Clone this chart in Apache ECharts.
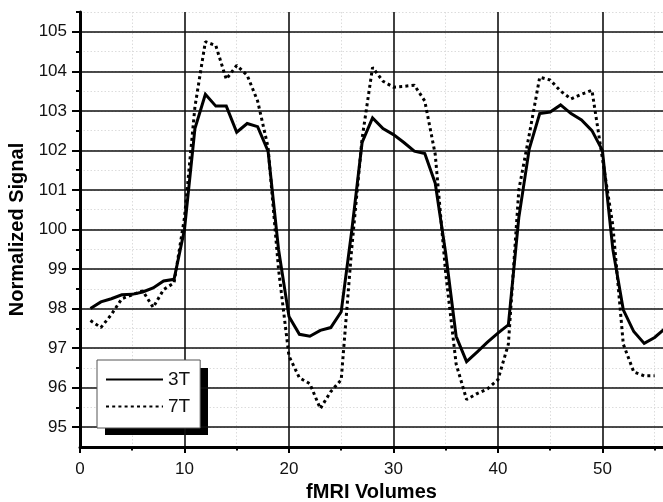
<!DOCTYPE html>
<html>
<head>
<meta charset="utf-8">
<script src="https://cdn.jsdelivr.net/npm/echarts@6/dist/echarts.min.js"></script>
<style>html,body{margin:0;padding:0;background:#fff;overflow:hidden}#c{width:663px;height:502px}</style>
</head>
<body>
<div id="c"></div>
<script>
const volumes = [1,2,3,4,5,6,7,8,9,10,11,12,13,14,15,16,17,18,19,20,21,22,23,24,25,26,27,28,29,30,31,32,33,34,35,36,37,38,39,40,41,42,43,44,45,46,47,48,49,50,51,52,53,54,55,56];
const signal3T = [98.0,98.17,98.25,98.35,98.36,98.42,98.52,98.7,98.74,100.0,
  102.55,103.42,103.12,103.12,102.46,102.68,102.6,101.98,99.5,97.8,
  97.35,97.3,97.45,97.52,97.92,99.95,102.2,102.82,102.55,102.4,
  102.2,101.98,101.92,101.17,99.4,97.3,96.66,96.9,97.15,97.38,
  97.59,100.3,102.04,102.93,102.97,103.15,102.93,102.77,102.5,102.0,
  99.5,97.97,97.42,97.12,97.27,97.5];
const signal7T = [97.7,97.52,97.85,98.25,98.35,98.45,98.03,98.48,98.65,100.3,
  103.1,104.75,104.65,103.8,104.15,103.9,103.25,102.08,99.0,96.8,
  96.25,96.1,95.47,95.9,96.2,99.5,102.3,104.1,103.75,103.6,
  103.62,103.65,103.25,101.9,98.9,96.6,95.7,95.85,95.97,96.2,
  97.1,101.0,102.4,103.85,103.78,103.5,103.3,103.42,103.52,101.8,
  100.1,97.1,96.4,96.3,96.3];
const yTicks = [95,96,97,98,99,100,101,102,103,104,105];
const yMinorTicks = [95,95.5,96,96.5,97,97.5,98,98.5,99,99.5,100,100.5,101,101.5,102,102.5,103,103.5,104,104.5,105,105.5];
const xTicks = [0,10,20,30,40,50];
const xMinorTicks = [5,15,25,35,45,55];
const seriesNames = ['3T','7T'];

const FONT = 'Liberation Sans, Arial, sans-serif';
const chart = echarts.init(document.getElementById('c'), null, {renderer:'canvas'});

const pair = (ys) => ys.map((v,i)=>[volumes[i], v]);

chart.setOption({
  animation:false,
  backgroundColor:'#fff',
  grid:{left:80, right:0, top:12, bottom:55, containLabel:false, outerBoundsMode:'none'},
  graphic:[{
    type:'rect', left:105, top:368, z:3, silent:true,
    shape:{width:103, height:67},
    style:{fill:'#000'}
  }],
  legend:{
    orient:'vertical', left:97, top:360, z:5,
    data:seriesNames,
    itemWidth:57, itemHeight:14, itemGap:8,
    padding:[10,10,12,8],
    backgroundColor:'#fff', borderColor:'#555', borderWidth:1,
    itemStyle:{opacity:0},
    textStyle:{fontFamily:FONT, fontSize:19, color:'#111'},
    inactiveColor:'#111'
  },
  xAxis:[{
    type:'value', min:0, max:55.8, position:'bottom',
    name:'fMRI Volumes', nameLocation:'middle', nameGap:35,
    nameTextStyle:{fontFamily:FONT, fontSize:20, fontWeight:'bold', color:'#000'},
    axisLine:{show:true, onZero:false, lineStyle:{color:'#000', width:3}},
    axisTick:{show:true, inside:false, length:6, customValues:xTicks, lineStyle:{color:'#000', width:2}},
    axisLabel:{show:true, customValues:xTicks, margin:14, fontFamily:FONT, fontSize:17, color:'#111'},
    splitLine:{show:true, lineStyle:{color:'#111', width:1.6, type:'solid'}},
    z:3
  },{
    type:'value', min:0, max:55.8, position:'bottom',
    axisLine:{show:false, onZero:false},
    axisTick:{show:true, inside:false, length:3.5, customValues:xMinorTicks, lineStyle:{color:'#000', width:2}},
    axisLabel:{show:false},
    splitLine:{show:true, lineStyle:{color:'#dcdcdc', width:1, type:[1.5,2]}},
    z:1
  }],
  yAxis:[{
    type:'value', min:94.5, max:105.5, position:'left',
    name:'Normalized Signal', nameLocation:'middle', nameGap:50, nameRotate:90,
    nameTextStyle:{fontFamily:FONT, fontSize:20, fontWeight:'bold', color:'#000'},
    axisLine:{show:true, onZero:false, lineStyle:{color:'#000', width:3}},
    axisTick:{show:true, inside:false, length:8, customValues:yTicks, lineStyle:{color:'#000', width:2}},
    axisLabel:{show:true, customValues:yTicks, margin:13, fontFamily:FONT, fontSize:17, color:'#111'},
    splitLine:{show:true, lineStyle:{color:'#111', width:1.6, type:'solid'}},
    z:3
  },{
    type:'value', min:94.5, max:105.5, position:'left',
    axisLine:{show:false, onZero:false},
    axisTick:{show:true, inside:false, length:4, customValues:yMinorTicks, lineStyle:{color:'#000', width:2}},
    axisLabel:{show:false},
    splitLine:{show:true, lineStyle:{color:'#dcdcdc', width:1, type:[1.5,2]}},
    z:1
  }],
  series:[{
    name:seriesNames[0], type:'line', xAxisIndex:0, yAxisIndex:0,
    data:pair(signal3T), showSymbol:false, symbol:'none',
    lineStyle:{color:'#000', width:3, type:'solid', join:'miter'},
    itemStyle:{color:'#000'}, z:5
  },{
    name:seriesNames[1], type:'line', xAxisIndex:0, yAxisIndex:0,
    data:pair(signal7T), showSymbol:false, symbol:'none',
    lineStyle:{color:'#000', width:3, type:[3,3.2]},
    itemStyle:{color:'#000'}, z:4
  }]
});
</script>
</body>
</html>
